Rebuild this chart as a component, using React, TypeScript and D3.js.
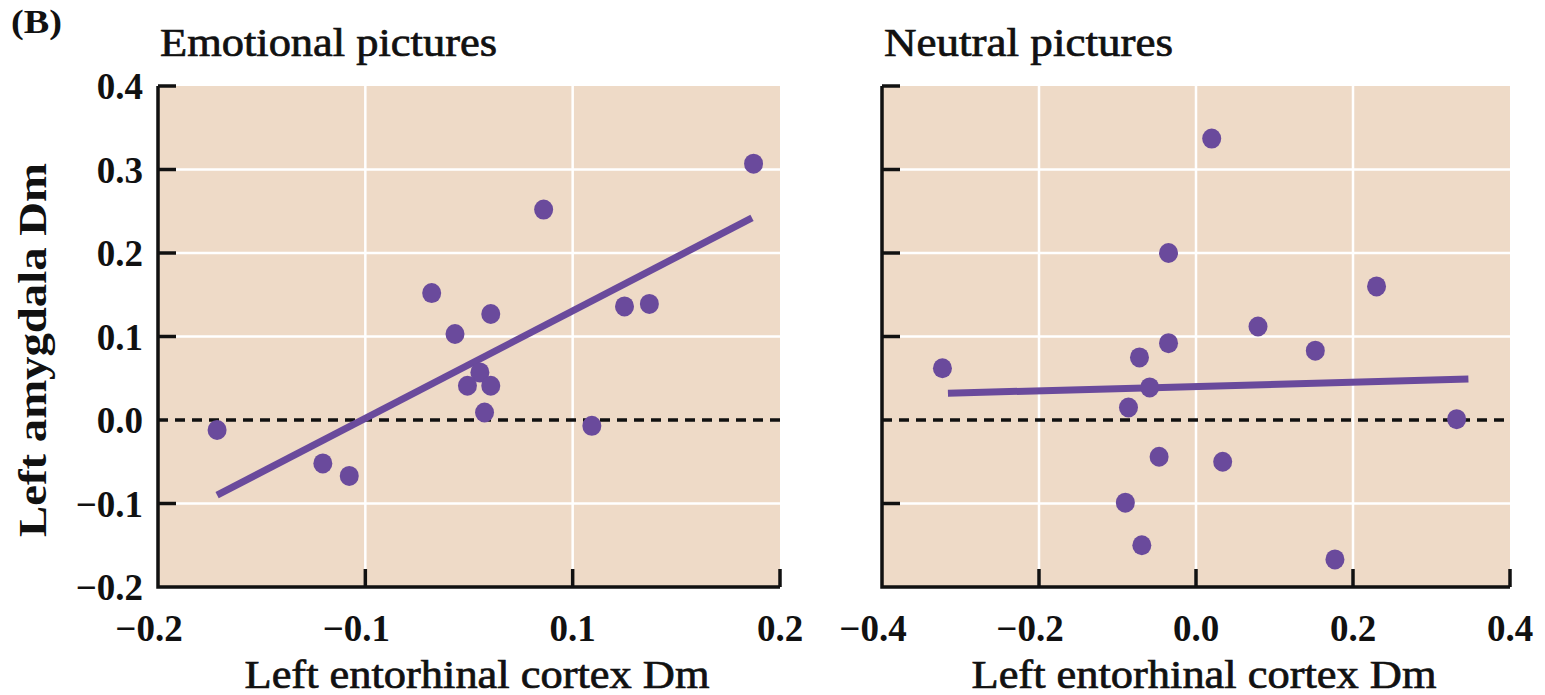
import React from "react";
import * as d3 from "d3";

// ---------- data ----------
const emoXTickLabels = ["−0.2", "−0.1", "0.1", "0.2"];
const neuXTickValues = [-0.4, -0.2, 0.0, 0.2, 0.4];
const neuXTickLabels = ["−0.4", "−0.2", "0.0", "0.2", "0.4"];
const yTickValues = [0.4, 0.3, 0.2, 0.1, 0.0, -0.1, -0.2];
const yTickLabels = ["0.4", "0.3", "0.2", "0.1", "0.0", "−0.1", "−0.2"];

const emoX = [-0.162, -0.094, -0.077, -0.024, -0.009, 0.014, 0.007, -0.001, 0.014, 0.010, 0.048, 0.079, 0.100, 0.116, 0.183];
const emoY = [-0.012, -0.052, -0.067, 0.152, 0.103, 0.127, 0.057, 0.041, 0.041, 0.009, 0.252, -0.007, 0.136, 0.139, 0.307];
const emoFit = [[-0.162, -0.090], [0.182, 0.242]];

const neuX = [-0.323, 0.020, -0.035, 0.230, 0.079, -0.035, 0.152, -0.072, -0.059, -0.086, 0.332, -0.047, 0.034, -0.090, -0.069, 0.177];
const neuY = [0.062, 0.337, 0.200, 0.160, 0.112, 0.092, 0.083, 0.075, 0.039, 0.015, 0.001, -0.044, -0.050, -0.099, -0.150, -0.167];
const neuFit = [[-0.316, 0.032], [0.347, 0.049]];

// ---------- style ----------
const BG = "#EEDAC7";
const PURPLE = "#6A4A9C";
const SERIF = "'Liberation Serif', 'Times New Roman', serif";

const TOP = 86;
const BOTTOM = 587;

const yScale = d3.scaleLinear().domain([-0.2, 0.4]).range([BOTTOM, TOP]);

type PanelProps = {
  x0: number;
  x1: number;
  xScale: d3.ScaleLinear<number, number>;
  tickPos: number[];
  tickLabels: string[];
  xs: number[];
  ys: number[];
  fit: number[][];
  title: string;
  titleLen: number;
  showYLabels: boolean;
};

function Panel(p: PanelProps) {
  const { x0, x1, xScale, tickPos, tickLabels, xs, ys, fit, title, titleLen, showYLabels } = p;
  const line = d3
    .line<number[]>()
    .x((d) => xScale(d[0]))
    .y((d) => yScale(d[1]));
  const gridX = tickPos.slice(1, -1);
  return (
    <g>
      <rect x={x0} y={TOP} width={x1 - x0} height={BOTTOM - TOP} fill={BG} />
      {yTickValues
        .filter((v) => v !== 0 && v !== 0.4 && v !== -0.2)
        .map((v) => (
          <line key={"gy" + v} x1={x0} x2={x1} y1={yScale(v)} y2={yScale(v)} stroke="#fff" strokeWidth={2.5} />
        ))}
      {gridX.map((px, i) => (
        <line key={"gx" + i} x1={px} x2={px} y1={TOP} y2={BOTTOM} stroke="#fff" strokeWidth={2.5} />
      ))}
      <line x1={x0} x2={x1} y1={yScale(0)} y2={yScale(0)} stroke="#111" strokeWidth={3.5} strokeDasharray="10 7" />
      <path d={line(fit) || ""} stroke={PURPLE} strokeWidth={7} fill="none" />
      {xs.map((v, i) => (
        <ellipse key={"d" + i} cx={xScale(v)} cy={yScale(ys[i])} rx={9.5} ry={10} fill={PURPLE} />
      ))}
      <path
        d={`M${x0},${TOP} V${BOTTOM} H${x1}`}
        stroke="#111"
        strokeWidth={3.5}
        fill="none"
        strokeLinejoin="miter"
      />
      {yTickValues
        .filter((v) => v !== -0.2 && v !== 0)
        .map((v) => (
          <line key={"ty" + v} x1={x0} x2={x0 + 18} y1={yScale(v)} y2={yScale(v)} stroke="#111" strokeWidth={3.5} />
        ))}
      {tickPos.slice(1).map((px, i) => (
        <line key={"tx" + i} x1={px} x2={px} y1={BOTTOM} y2={BOTTOM - 18} stroke="#111" strokeWidth={3.5} />
      ))}
      {tickPos.map((px, i) => (
        <text
          key={"lx" + i}
          x={px}
          y={641}
          dx={tickLabels[i].startsWith("−") ? -9 : 0}
          textAnchor="middle"
          fontFamily={SERIF}
          fontWeight="bold"
          fontSize={37}
          fill="#111"
        >
          {tickLabels[i]}
        </text>
      ))}
      {showYLabels &&
        yTickValues.map((v, i) => (
          <text
            key={"ly" + v}
            x={143}
            y={yScale(v) + 13}
            textAnchor="end"
            fontFamily={SERIF}
            fontWeight="bold"
            fontSize={37}
            fill="#111"
          >
            {yTickLabels[i]}
          </text>
        ))}
      <text
        x={x0 + 2}
        y={56}
        fontFamily={SERIF}
        fontSize={39}
        fill="#111"
        stroke="#111"
        strokeWidth={0.7}
        textLength={titleLen}
        lengthAdjust="spacingAndGlyphs"
      >
        {title}
      </text>
      <text
        x={(x0 + x1) / 2 + 8}
        y={688}
        textAnchor="middle"
        fontFamily={SERIF}
        fontSize={39}
        fill="#111"
        stroke="#111"
        strokeWidth={0.7}
        textLength={465}
        lengthAdjust="spacingAndGlyphs"
      >
        Left entorhinal cortex Dm
      </text>
    </g>
  );
}

export default function App() {
  const emoL = 158,
    emoR = 780;
  const neuL = 882,
    neuR = 1510;
  const emoXScale = d3.scaleLinear().domain([-0.2, 0.2]).range([emoL, emoR]);
  const emoTickScale = d3.scalePoint<string>().domain(emoXTickLabels).range([emoL, emoR]);
  const neuXScale = d3.scaleLinear().domain([-0.4, 0.4]).range([neuL, neuR]);

  return (
    <svg
      width={1545}
      height={695}
      style={{ position: "absolute", left: 0, top: 0, background: "#fff" }}
    >
      <text x={11} y={33} fontFamily={SERIF} fontWeight="bold" fontSize={34} fill="#111" textLength={51} lengthAdjust="spacingAndGlyphs">
        (B)
      </text>
      <text
        transform={`translate(46,350) rotate(-90)`}
        textAnchor="middle"
        fontFamily={SERIF}
        fontWeight="bold"
        fontSize={41}
        fill="#111"
        textLength={374}
        lengthAdjust="spacingAndGlyphs"
      >
        Left amygdala Dm
      </text>
      <Panel
        x0={emoL}
        x1={emoR}
        xScale={emoXScale}
        tickPos={emoXTickLabels.map((l) => emoTickScale(l) as number)}
        tickLabels={emoXTickLabels}
        xs={emoX}
        ys={emoY}
        fit={emoFit}
        title="Emotional pictures"
        titleLen={337}
        showYLabels={true}
      />
      <Panel
        x0={neuL}
        x1={neuR}
        xScale={neuXScale}
        tickPos={neuXTickValues.map((v) => neuXScale(v))}
        tickLabels={neuXTickLabels}
        xs={neuX}
        ys={neuY}
        fit={neuFit}
        title="Neutral pictures"
        titleLen={289}
        showYLabels={false}
      />
    </svg>
  );
}
